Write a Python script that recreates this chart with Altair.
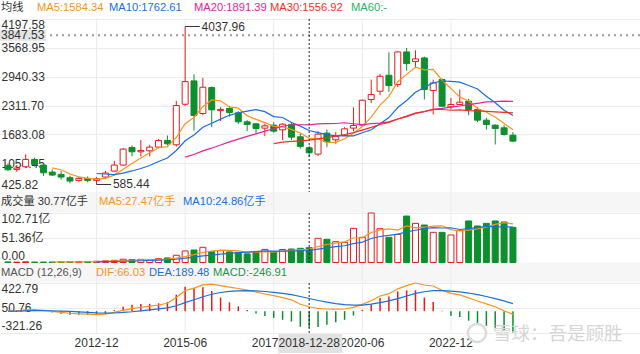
import altair as alt
import pandas as pd

# ---------------- data (quarterly candles) ----------------
opens = [1002, 915, 973, 1133, 1010, 857, 806, 734, 675, 719,
         675, 748, 879, 1010, 1395, 1300, 1322, 1402, 1548, 1453,
         2340, 2849, 2137, 2704, 2200, 2246, 2151, 1955, 1911, 1817,
         1882, 1780, 1897, 1628, 1388, 1250, 1708, 1562, 1657, 1817,
         1882, 2442, 2624, 2973, 2769, 3482, 3271, 3351, 2638, 2878,
         2282, 2333, 2406, 2224, 1991, 1882, 1824, 1664]
highs = [1040, 1010, 1242, 1170, 1024, 915, 879, 777, 748, 762,
         748, 886, 1104, 1380, 1439, 1560, 1453, 1580, 1657, 2413,
         4037.96, 2994, 2915, 2725, 2275, 2297, 2188, 1991, 1933, 1911,
         1947, 1925, 1947, 1700, 1424, 1751, 1788, 1730, 1840, 2270,
         2440, 2878, 3002, 3474, 3496, 3569, 3518, 3380, 2878, 2900,
         2478, 2660, 2457, 2275, 2042, 1900, 1880, 1730]
lows = [880, 860, 940, 975, 770, 770, 697, 610, 646, 632,
        585.44, 720, 860, 990, 1199, 1200, 1199, 1380, 1440, 1417,
        2300, 1766, 2100, 1838, 1970, 2071, 1911, 1751, 1693, 1642,
        1715, 1555, 1560, 1370, 1184, 1206, 1402, 1475, 1640, 1750,
        1860, 2369, 2537, 2609, 2718, 3074, 3133, 2442, 2115, 2275,
        2224, 2318, 2100, 1948, 1788, 1460, 1650, 1511]
closes = [908, 945, 1133, 1024, 842, 792, 748, 661, 719, 675,
          714, 835, 1010, 1359, 1300, 1330, 1402, 1548, 1475, 2311,
          2834, 2093, 2711, 2217, 2225, 2158, 1955, 1897, 1809, 1868,
          1751, 1904, 1620, 1417, 1279, 1686, 1519, 1635, 1802, 1875,
          2427, 2551, 2951, 2747, 3482, 3227, 3329, 2660, 2805, 2296,
          2333, 2384, 2224, 1991, 1897, 1809, 1679, 1533]
volumes = [1.2, 0.8, 1.5, 1.0, 0.9, 1.0, 1.2, 1.4, 2.0, 2.2,
           2.6, 3.5, 4.5, 6.8, 6.0, 6.5, 5.5, 8.0, 9.5, 15.0,
           24.0, 26.0, 31.5, 22.5, 24.5, 22.0, 21.0, 18.0, 23.0, 27.25,
           22.0, 27.0, 28.0, 29.5, 30.77, 50.2, 48.1, 43.3, 41.9, 70.9,
           52.2, 102.71, 70.2, 52.2, 58.4, 96.4, 81.2, 77.8, 62.6, 62.6,
           57.1, 66.8, 86.2, 75.8, 81.2, 86.2, 84.1, 73.0]
difs = [0, 6, 20, 22, 10, -5, -18, -32, -40, -46,
        -52, -45, -20, 12, 38, 58, 74, 92, 118, 205,
        310, 345, 395, 405, 382, 362, 340, 315, 287, 258,
        232, 202, 170, 103, 66.03, 40, 32, 30, 32, 56,
        101, 157, 227, 262, 335, 383, 422.79, 393, 378, 312,
        267, 245, 200, 152, 110, 65, 6, -48]
deas = [0, 1, 5, 8, 9, 6, 1, -5, -12, -19,
        -26, -30, -28, -20, -9, 5, 19, 33, 50, 81,
        127, 171, 216, 254, 280, 296, 305, 307, 304, 295,
        283, 267, 248, 220, 189.48, 160, 135, 114, 97, 89,
        91, 105, 129, 153, 188, 227, 266, 291, 309, 309,
        301, 290, 272, 248, 220, 189, 153, 112]

price_ticks = [425.82, 1054.45, 1683.08, 2311.70, 2940.33, 3568.95, 4197.58]
price_labels = ["425.82", "1054.45", "1683.08", "2311.70", "2940.33", "3568.95", "4197.58"]
vol_ticks = [0.0, 51.36, 102.71]
vol_labels = ["0.00", "51.36亿", "102.71亿"]
macd_ticks = [-321.26, 50.76, 422.79]
macd_labels = ["-321.26", "50.76", "422.79"]
date_ticks = [10, 20, 30, 40, 50]
date_labels = ["2012-12", "2015-06", "2017-12", "2020-06", "2022-12"]

cross_idx = 34
cross_date = "2018-12-28"
cross_price = 3847.53

ma_windows = [5, 10, 20, 30]
vol_ma_windows = [5, 10]

header_price = ["均线", "MA5:1584.34", "MA10:1762.61", "MA20:1891.39", "MA30:1556.92", "MA60:-"]
header_vol = ["成交量 30.77亿手", "MA5:27.47亿手", "MA10:24.86亿手"]
header_macd = ["MACD (12,26,9)", "DIF:66.03", "DEA:189.48", "MACD:-246.91"]
watermark = "雪球：吾是顾胜"

# ---------------- styles / layout ----------------
RED = "#e41c1c"
GREEN = "#0e8f2e"
ORANGE = "#f7941d"
BLUE = "#1a6fe0"
MAGENTA = "#e2249b"
RED2 = "#f3301f"
GREEN2 = "#1fb36a"
TXT = "#333333"
GRID = "#ececec"
BAND = "#f6f6f6"
FONT = "Liberation Sans, Noto Sans CJK SC"
HFS = 11.2
W, H = 640, 354

ma_colors = [ORANGE, BLUE, MAGENTA, RED2]
hp_colors = [TXT, ORANGE, BLUE, MAGENTA, RED2, GREEN2]
hp_x = [1, 37, 109, 194, 270, 351]
hv_colors = [TXT, ORANGE, BLUE]
hv_x = [1, 99, 183]
hm_colors = ["#555555", ORANGE, BLUE, "#17994a"]
hm_x = [1, 96, 149, 213]

XS = alt.Scale(domain=[-1 / 3, W / 9 - 1 / 3], nice=False, zero=False)
PY = alt.Scale(domain=[425.82, 4197.58], range=[191.8, 19.2], nice=False, zero=False)
VY = alt.Scale(domain=[0, 102.71], range=[262.5, 213], nice=False, zero=False)
MY = alt.Scale(domain=[-321.26, 422.79], range=[332.5, 283], nice=False, zero=False)

n = len(closes)
df = pd.DataFrame({"i": list(range(n)), "open": opens, "high": highs, "low": lows,
                   "close": closes, "vol": volumes, "dif": difs, "dea": deas})
ONE = pd.DataFrame({"a": [0]})
UP = "datum.close >= datum.open"


def X(field="i"):
    return alt.X(f"{field}:Q", scale=XS, axis=None)


def label_expr(values, labels):
    expr = "''"
    for v, l in zip(values, labels):
        expr = f"abs(datum.value - ({v})) < 1e-6 ? '{l}' : ({expr})"
    return expr


def yaxis(values, labels):
    return alt.Axis(values=values, labelExpr=label_expr(values, labels), orient="left",
                    labelAlign="left", labelPadding=-1, ticks=False, domain=False,
                    grid=True, gridColor=GRID, gridWidth=1, labelFlush=True,
                    labelOverlap=False, labelColor=TXT, labelFontSize=12,
                    labelFont=FONT, title=None)


def axis_layer(values, labels, scale):
    return alt.Chart(pd.DataFrame({"v": values})).mark_rule(opacity=0).encode(
        y=alt.Y("v:Q", scale=scale, axis=yaxis(values, labels)))


def band(y1, y2):
    return alt.Chart(ONE).mark_rect(color=BAND).encode(
        x=alt.value(0), x2=alt.value(W), y=alt.value(y1), y2=alt.value(y2))


def ma_line(field, w, color, scale):
    return (alt.Chart(df)
            .transform_window(ma=f"mean({field})", frame=[-(w - 1), 0], sort=[alt.SortField("i")])
            .transform_filter(f"datum.i >= {w}")
            .mark_line(color=color, strokeWidth=1.2)
            .encode(x=X(), y=alt.Y("ma:Q", scale=scale, axis=None)))


def texts(items, colors, xs, y):
    out = []
    for t, c, px in zip(items, colors, xs):
        out.append(alt.Chart(ONE).mark_text(align="left", baseline="middle", fontSize=HFS,
                                            font=FONT, color=c)
                   .encode(x=alt.value(px), y=alt.value(y), text=alt.value(t)))
    return out


layers = []
layers += [band(192, 212.5), band(262.5, 282.5)]
layers += [axis_layer(price_ticks, price_labels, PY),
           axis_layer(vol_ticks, vol_labels, VY),
           axis_layer(macd_ticks, macd_labels, MY)]

# vertical grid lines at the date ticks
layers.append(alt.Chart(pd.DataFrame({"i": date_ticks})).mark_rule(color=GRID).encode(
    x=X(), y=alt.value(18), y2=alt.value(333)))

# candles
layers.append(alt.Chart(df).mark_rule(strokeWidth=1).encode(
    x=X(), y=alt.Y("low:Q", scale=PY, axis=None), y2="high:Q",
    color=alt.condition(UP, alt.value(RED), alt.value(GREEN))))
layers.append(alt.Chart(df).mark_bar(size=6, strokeWidth=1).encode(
    x=X(), y=alt.Y("open:Q", scale=PY, axis=None), y2="close:Q",
    fill=alt.condition(UP, alt.value("white"), alt.value(GREEN)),
    stroke=alt.condition(UP, alt.value(RED), alt.value(GREEN))))
for w, c in zip(ma_windows, ma_colors):
    layers.append(ma_line("close", w, c, PY))

# max / min annotations
hi_i = max(range(n), key=lambda k: highs[k])
lo_i = min(range(n), key=lambda k: lows[k])
ann = pd.DataFrame({"i": [hi_i, lo_i], "p": [highs[hi_i], lows[lo_i]],
                    "label": [f"{highs[hi_i]:.2f}", f"{lows[lo_i]:.2f}"]})
layers.append(alt.Chart(ann).transform_calculate(i2="datum.i + 1.65").mark_rule(color="#333333").encode(
    x=X(), x2="i2:Q", y=alt.Y("p:Q", scale=PY, axis=None)))
layers.append(alt.Chart(ann).transform_calculate(it="datum.i + 1.85").mark_text(
    align="left", baseline="middle", fontSize=12, font=FONT, color=TXT).encode(
    x=X("it"), y=alt.Y("p:Q", scale=PY, axis=None), text="label:N"))

# volume
layers.append(alt.Chart(df).mark_bar(size=6, strokeWidth=1).encode(
    x=X(), y=alt.Y("vol:Q", scale=VY, axis=None),
    fill=alt.condition(UP, alt.value("white"), alt.value(GREEN)),
    stroke=alt.condition(UP, alt.value(RED), alt.value(GREEN))))
for w, c in zip(vol_ma_windows, [ORANGE, BLUE]):
    layers.append(ma_line("vol", w, c, VY))

# MACD
layers.append(alt.Chart(df).transform_calculate(hist="2 * (datum.dif - datum.dea)", zero="0")
              .mark_rule(strokeWidth=1.5).encode(
    x=X(), y=alt.Y("hist:Q", scale=MY, axis=None), y2="zero:Q",
    color=alt.condition("datum.hist >= 0", alt.value(RED), alt.value(GREEN))))
layers.append(alt.Chart(df).mark_line(color=ORANGE, strokeWidth=1.2).encode(
    x=X(), y=alt.Y("dif:Q", scale=MY, axis=None)))
layers.append(alt.Chart(df).mark_line(color=BLUE, strokeWidth=1.2).encode(
    x=X(), y=alt.Y("dea:Q", scale=MY, axis=None)))

# date labels
layers.append(alt.Chart(pd.DataFrame({"i": date_ticks, "label": date_labels})).mark_text(
    fontSize=12, font=FONT, color=TXT, baseline="middle").encode(
    x=X(), y=alt.value(343), text="label:N"))

# crosshair
cross = pd.DataFrame({"i": [cross_idx], "p": [cross_price], "date": [cross_date],
                      "plabel": [f"{cross_price:.2f}"]})
layers.append(alt.Chart(cross).mark_rule(color="#9a9a9a", strokeDash=[2, 4], strokeWidth=2).encode(
    y=alt.Y("p:Q", scale=PY, axis=None)))
for y1, y2 in [(19, 192), (213, 262.5), (283, 333)]:
    layers.append(alt.Chart(cross).mark_rule(color="#222222", strokeDash=[2, 2], strokeWidth=1).encode(
        x=X(), y=alt.value(y1), y2=alt.value(y2)))
layers.append(alt.Chart(cross).mark_rect(color="#e4e4e4", yOffset=-5.5, y2Offset=5.5).encode(
    x=alt.value(0), x2=alt.value(46), y=alt.Y("p:Q", scale=PY, axis=None), y2="p:Q"))
layers.append(alt.Chart(cross).mark_text(align="left", baseline="middle", fontSize=12,
                                         font=FONT, color=TXT).encode(
    x=alt.value(1), y=alt.Y("p:Q", scale=PY, axis=None), text="plabel:N"))
layers.append(alt.Chart(cross).mark_rect(color="#e2e2e2", xOffset=-31, x2Offset=33).encode(
    x=X(), x2="i:Q", y=alt.value(334), y2=alt.value(353)))
layers.append(alt.Chart(cross).mark_text(baseline="middle", fontSize=12, font=FONT, color=TXT).encode(
    x=X(), y=alt.value(343), text="date:N"))

# headers
layers += texts(header_price, hp_colors, hp_x, 8)
layers += texts(header_vol, hv_colors, hv_x, 202)
layers += texts(header_macd, hm_colors, hm_x, 272.5)

# watermark
layers.append(alt.Chart(ONE).mark_point(shape="circle", filled=False, size=330, strokeWidth=2.5,
                                        color="#dcdcdc", opacity=1).encode(
    x=alt.value(477), y=alt.value(333)))
layers.append(alt.Chart(ONE).mark_text(align="left", baseline="middle", fontSize=18.5,
                                       font="Noto Sans CJK SC", color="#d6d6d6").encode(
    x=alt.value(493), y=alt.value(334), text=alt.value(watermark)))

chart = (alt.layer(*layers)
         .resolve_scale(y="independent")
         .properties(width=W, height=H, autosize=alt.AutoSizeParams(type="none"), padding=0)
         .configure_view(stroke=None))

chart.save("out.html", embed_options={"renderer": "svg", "actions": False})
